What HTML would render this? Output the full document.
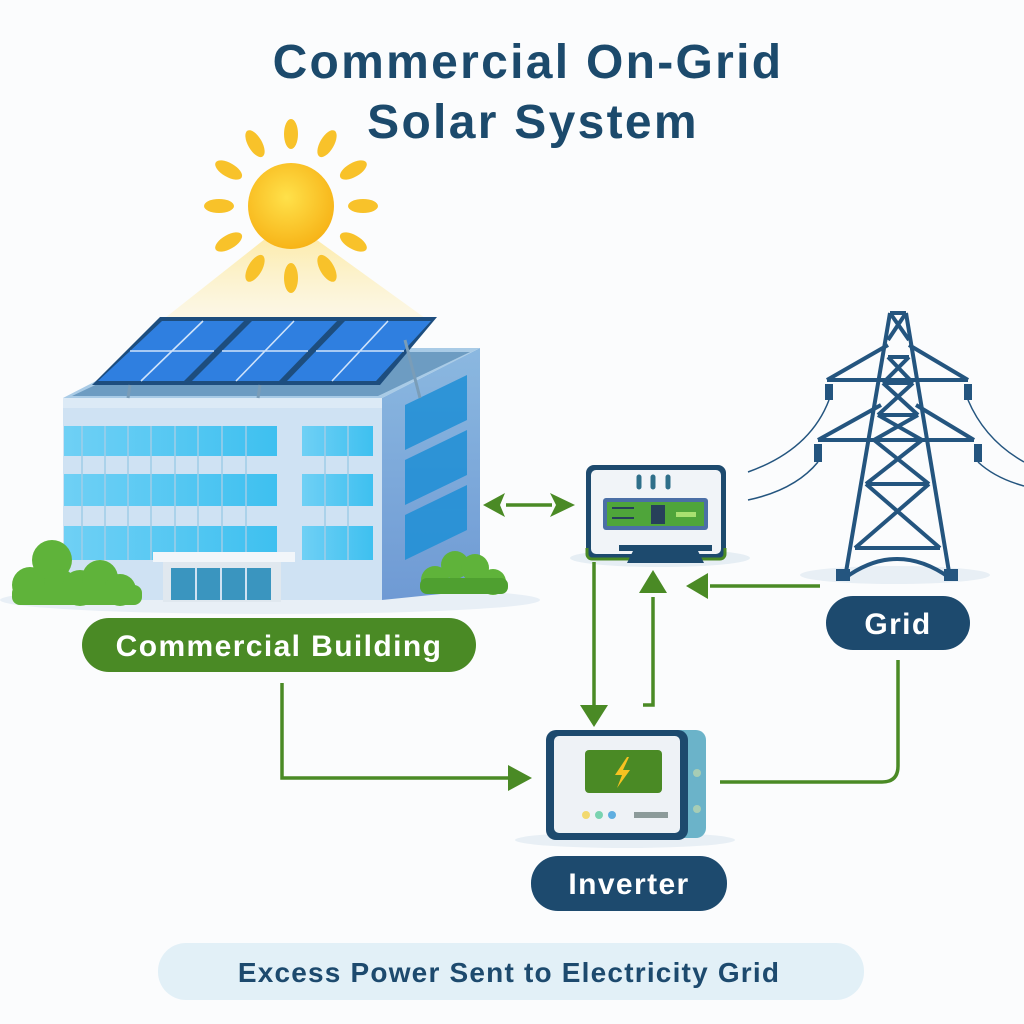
<!DOCTYPE html>
<html><head><meta charset="utf-8"><style>
html,body{margin:0;padding:0;background:#fbfcfd;}
svg{display:block}
text{font-family:"Liberation Sans",sans-serif;font-weight:bold}
</style></head><body>
<svg width="1024" height="1024" viewBox="0 0 1024 1024" xmlns="http://www.w3.org/2000/svg">
<defs>
<linearGradient id="beam" x1="0" y1="0" x2="0" y2="1"><stop offset="0" stop-color="#fde9a0" stop-opacity="0.9"/><stop offset="1" stop-color="#fdf3d0" stop-opacity="0.5"/></linearGradient>
<radialGradient id="sun" cx="0.45" cy="0.4" r="0.6"><stop offset="0" stop-color="#ffe14a"/><stop offset="1" stop-color="#f7b418"/></radialGradient>
<linearGradient id="glass" x1="0" y1="0" x2="1" y2="0"><stop offset="0" stop-color="#6fd0f5"/><stop offset="1" stop-color="#3ec0f0"/></linearGradient>
<linearGradient id="side" x1="0" y1="0" x2="0" y2="1"><stop offset="0" stop-color="#8bb8e0"/><stop offset="1" stop-color="#6f9ad4"/></linearGradient>
</defs>
<rect width="1024" height="1024" fill="#fbfcfd"/>
<!-- Title -->
<text x="528" y="78" font-size="48" letter-spacing="2.3" fill="#1c4a6c" text-anchor="middle">Commercial On-Grid</text>
<text x="533" y="138" font-size="48" letter-spacing="2.3" fill="#1c4a6c" text-anchor="middle">Solar System</text>
<!-- beam -->
<polygon points="270,235 310,235 425,318 165,318" fill="url(#beam)"/>
<!-- sun rays -->
<g fill="#f8c22a" transform="translate(291,206)">
<g id="ray"><ellipse cx="0" cy="-72" rx="7" ry="15"/></g>
<use href="#ray" transform="rotate(30)"/><use href="#ray" transform="rotate(60)"/><use href="#ray" transform="rotate(90)"/><use href="#ray" transform="rotate(120)"/><use href="#ray" transform="rotate(150)"/><use href="#ray" transform="rotate(180)"/><use href="#ray" transform="rotate(210)"/><use href="#ray" transform="rotate(240)"/><use href="#ray" transform="rotate(270)"/><use href="#ray" transform="rotate(300)"/><use href="#ray" transform="rotate(330)"/>
</g>
<circle cx="291" cy="206" r="43" fill="url(#sun)"/>
<!-- ground shadow -->
<ellipse cx="270" cy="600" rx="270" ry="14" fill="#e8eff6"/>
<!-- building right side -->
<polygon points="382,398 480,348 480,590 382,600" fill="url(#side)"/>
<g fill="#1f8fd6" opacity="0.85">
<polygon points="405,405 467,375 467,420 405,450"/>
<polygon points="405,460 467,430 467,475 405,505"/>
<polygon points="405,515 467,485 467,530 405,560"/>
</g>
<!-- roof -->
<polygon points="63,398 382,398 480,348 160,348" fill="#a9cbe6"/>
<polygon points="72,396 378,396 470,352 165,352" fill="#6d9cc2"/>
<!-- front -->
<rect x="63" y="398" width="319" height="202" fill="#cfe2f3"/>
<rect x="63" y="398" width="319" height="10" fill="#dceaf6"/>
<g fill="url(#glass)">
<rect x="64" y="426" width="213" height="30"/><rect x="302" y="426" width="71" height="30"/>
<rect x="64" y="474" width="213" height="32"/><rect x="302" y="474" width="71" height="32"/>
<rect x="64" y="526" width="213" height="34"/><rect x="302" y="526" width="71" height="34"/>
</g>
<g stroke="#9fcde8" stroke-width="1.5">
<path d="M82,426V560 M105,426V560 M128,426V560 M151,426V560 M175,426V560 M198,426V560 M222,426V560 M246,426V560 M325,426V560 M348,426V560"/>
</g>
<!-- entrance -->
<rect x="153" y="552" width="142" height="10" fill="#f2f6fa"/>
<rect x="163" y="562" width="118" height="40" fill="#e0e8ef"/>
<rect x="171" y="568" width="100" height="32" fill="#3a95bf"/>
<path d="M196,568V600 M221,568V600 M246,568V600" stroke="#cfe2f3" stroke-width="2"/>
<!-- bushes -->
<g fill="#5fb33a">
<circle cx="30" cy="585" r="18"/><circle cx="52" cy="560" r="20"/><circle cx="60" cy="585" r="16"/>
<circle cx="80" cy="588" r="18"/><circle cx="100" cy="578" r="18"/><circle cx="120" cy="590" r="16"/>
<circle cx="435" cy="580" r="14"/><circle cx="455" cy="565" r="14"/><circle cx="475" cy="568" r="14"/><circle cx="493" cy="582" r="13"/>
</g>
<rect x="12" y="585" width="130" height="20" fill="#5fb33a" rx="8"/>
<rect x="420" y="578" width="88" height="16" fill="#4fa030" rx="7"/>
<!-- solar panels -->
<polygon points="92,385 160,317 437,317 380,385" fill="#1d4d7e"/>
<g fill="#2f7fe0">
<polygon points="98,381 162,321 244,321 184,381"/>
<polygon points="192,381 252,321 337,321 279,381"/>
<polygon points="287,381 345,321 431,321 376,381"/>
</g>
<g stroke="#cfe3fa" stroke-width="1.6">
<path d="M130,351H214 M222,351H308 M316,351H404"/>
<path d="M141,381L203,321 M236,381L294,321 M332,381L388,321"/>
</g>
<path d="M405,340L420,398 M130,385L128,398 M260,385L258,398" stroke="#7a9db8" stroke-width="3"/>
<!-- building label -->
<rect x="82" y="618" width="394" height="54" rx="27" fill="#4a8a25"/>
<text x="279" y="656" font-size="30" letter-spacing="1.4" fill="#fff" text-anchor="middle">Commercial Building</text>
<!-- meter -->
<ellipse cx="660" cy="558" rx="90" ry="9" fill="#e6eef4"/>
<rect x="586" y="465" width="140" height="94" rx="8" fill="#1d4a6e"/>
<rect x="591" y="470" width="130" height="84" rx="5" fill="#f1f4f8"/>
<path d="M587,548 v6 a5 5 0 0 0 5 5 h128 a5 5 0 0 0 5 -5 v-6" fill="none" stroke="#4a8a25" stroke-width="3"/>
<rect x="603" y="498" width="105" height="32" rx="3" fill="#4b6fa6"/>
<rect x="607" y="502" width="97" height="24" fill="#4fa53a"/>
<rect x="651" y="505" width="14" height="19" fill="#27405a"/>
<rect x="676" y="512" width="20" height="5" fill="#a8e070"/>
<path d="M612,508h22 M612,518h22" stroke="#27405a" stroke-width="2"/>
<path d="M639,477v10 M653,477v10 M668,477v10" stroke="#2f6f8a" stroke-width="5" stroke-linecap="round"/>
<rect x="619" y="545" width="93" height="6" fill="#1d4a6e"/>
<polygon points="633,551 698,551 704,563 627,563" fill="#1d4a6e"/>
<!-- tower -->
<ellipse cx="895" cy="575" rx="95" ry="9" fill="#e8eff5"/>
<g stroke="#24557f" stroke-width="4" fill="none" stroke-linejoin="round">
<path d="M890,313L845,578 M906,313L950,578 M890,313H906"/>
<path d="M888,357H909 M827,380H968 M818,440H974 M883,383H913 M878,415H918 M874,440H922 M866,484H929 M855,548H940"/>
<path d="M888,357L913,383 M909,357L883,383 M883,383L918,415 M913,383L878,415 M878,415L922,440 M918,415L874,440 M874,440L929,484 M922,440L866,484 M866,484L940,548 M929,484L855,548"/>
<path d="M888,345L827,380 M909,345L968,380 M881,405L818,440 M916,405L974,440"/>
<path d="M845,578Q897,540 950,578"/>
<path d="M890,313L909,340 M906,313L888,340"/>
</g>
<g fill="#24557f">
<rect x="825" y="384" width="8" height="16"/><rect x="964" y="384" width="8" height="16"/>
<rect x="814" y="444" width="8" height="18"/><rect x="974" y="444" width="8" height="18"/>
<rect x="836" y="569" width="14" height="12"/><rect x="944" y="569" width="14" height="12"/>
</g>
<g stroke="#24557f" stroke-width="1.5" fill="none">
<path d="M829,400Q810,450 748,472"/><path d="M818,462Q795,490 748,500"/>
<path d="M968,400Q985,440 1024,462"/><path d="M978,462Q995,478 1024,486"/>
</g>
<!-- grid label -->
<rect x="826" y="596" width="144" height="54" rx="27" fill="#1d4a6e"/>
<text x="898" y="634" font-size="30" letter-spacing="1.4" fill="#fff" text-anchor="middle">Grid</text>
<!-- inverter -->
<ellipse cx="625" cy="840" rx="110" ry="8" fill="#e8eff5"/>
<rect x="640" y="730" width="66" height="108" rx="10" fill="#6bb3c9"/>
<rect x="546" y="730" width="142" height="110" rx="10" fill="#1d4a6e"/>
<rect x="554" y="736" width="126" height="97" rx="5" fill="#eef2f6"/>
<rect x="585" y="750" width="77" height="43" rx="4" fill="#4a8a25"/>
<polygon points="627,757 615,775 622,775 617,788 630,770 623,770 629,757" fill="#f7c221"/>
<circle cx="586" cy="815" r="4" fill="#f2d96e"/><circle cx="599" cy="815" r="4" fill="#79d3b0"/><circle cx="612" cy="815" r="4" fill="#5faee0"/>
<rect x="634" y="812" width="34" height="6" fill="#8c9b9a"/>
<circle cx="697" cy="773" r="4" fill="#a7cdb5"/><circle cx="697" cy="809" r="4" fill="#a7cdb5"/>
<!-- inverter label -->
<rect x="531" y="856" width="196" height="55" rx="27" fill="#1d4a6e"/>
<text x="629" y="894" font-size="30" letter-spacing="1.4" fill="#fff" text-anchor="middle">Inverter</text>
<!-- connectors -->
<g stroke="#4a8a25" stroke-width="3.5" fill="none">
<path d="M506,505H552"/>
<polygon points="483,505 505,493 500,505 505,517" fill="#4a8a25" stroke="none"/>
<polygon points="575,505 550,493 556,505 550,517" fill="#4a8a25" stroke="none"/>
<path d="M594,562V705"/>
<polygon points="580,705 608,705 594,727" fill="#4a8a25" stroke="none"/>
<path d="M643,705H653V597"/>
<polygon points="639,593 667,593 653,570" fill="#4a8a25" stroke="none"/>
<path d="M820,586H710"/>
<polygon points="708,573 708,599 686,586" fill="#4a8a25" stroke="none"/>
<path d="M282,683V778H510"/>
<polygon points="508,765 508,791 532,778" fill="#4a8a25" stroke="none"/>
<path d="M720,782H882Q898,782 898,766V660"/>
</g>
<!-- banner -->
<rect x="158" y="943" width="706" height="57" rx="28" fill="#e2f0f7"/>
<text x="509" y="982" font-size="28" letter-spacing="1.2" fill="#1d4a6e" text-anchor="middle">Excess Power Sent to Electricity Grid</text>
</svg>
</body></html>
